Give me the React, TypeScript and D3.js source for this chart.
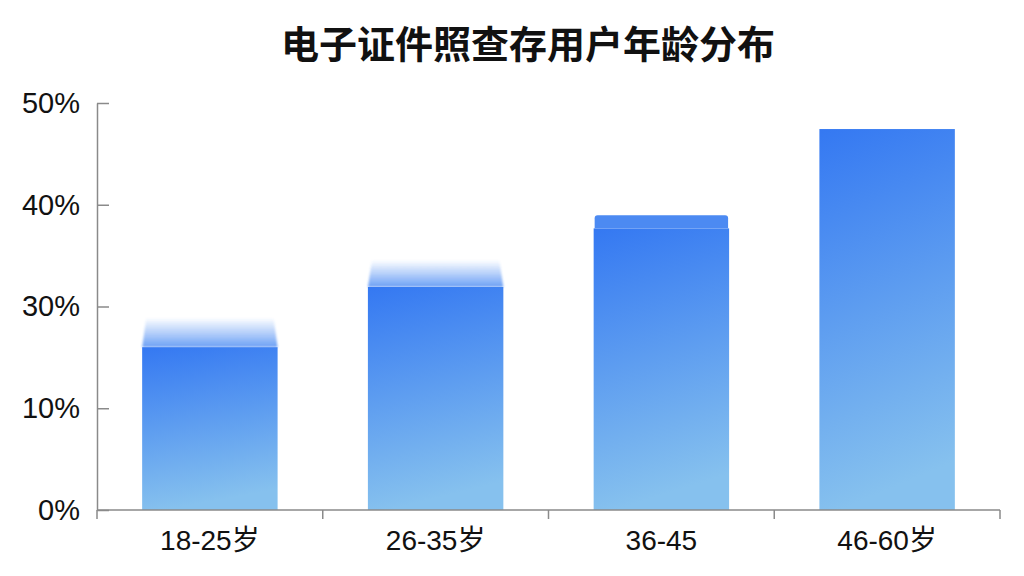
import { useEffect, useRef } from "react";
import * as d3 from "d3";

const title = "电子证件照查存用户年龄分布";
const categories = ["18-25岁", "26-35岁", "36-45", "46-60岁"];
// bar heights in axis units (axis runs 0..50 with evenly spaced labels)
const values = [20.0, 27.4, 34.6, 46.8];
// faded "ghost" top above bars (null = none)
const ghostTops = [23.6, 30.7, null, null];
// lighter cap drawn on top of a bar (null = none)
const capTops = [null, null, 36.2, null];
const tickValues = [0, 12.5, 25, 37.5, 50];
const tickLabels = ["0%", "10%", "30%", "40%", "50%"];

const W = 1024;
const H = 576;
const margin = { top: 103, right: 24, bottom: 66, left: 97 };

export default function App() {
  const svgRef = useRef<SVGSVGElement>(null);

  useEffect(() => {
    if (!svgRef.current) return;
    const svg = d3.select(svgRef.current);
    svg.selectAll("*").remove();

    const x = d3.scaleBand<string>()
      .domain(categories)
      .range([margin.left, W - margin.right])
      .paddingInner(0.4)
      .paddingOuter(0.2);

    const y = d3.scaleLinear()
      .domain([0, 50])
      .range([H - margin.bottom, margin.top]);

    const defs = svg.append("defs");
    const grad = defs.append("linearGradient")
      .attr("id", "barGrad")
      .attr("x1", 0).attr("y1", 0).attr("x2", 0.15).attr("y2", 1);
    grad.append("stop").attr("offset", "0%").attr("stop-color", "#3478f2");
    grad.append("stop").attr("offset", "100%").attr("stop-color", "#86c1ee");

    const ghost = defs.append("linearGradient")
      .attr("id", "ghostGrad")
      .attr("x1", 0).attr("y1", 1).attr("x2", 0).attr("y2", 0);
    ghost.append("stop").attr("offset", "0%").attr("stop-color", "#3d82f2").attr("stop-opacity", 0.75);
    ghost.append("stop").attr("offset", "100%").attr("stop-color", "#3d82f2").attr("stop-opacity", 0);

    defs.append("filter").attr("id", "soft")
      .append("feGaussianBlur").attr("stdDeviation", 0.8);

    // title
    svg.append("text")
      .attr("x", 528)
      .attr("y", 58)
      .attr("text-anchor", "middle")
      .attr("font-family", "'Noto Sans CJK SC', sans-serif")
      .attr("font-weight", 700)
      .attr("font-size", 38)
      .attr("fill", "#111")
      .text(title);

    // ghost tops
    categories.forEach((c, i) => {
      const g = ghostTops[i];
      if (g == null) return;
      const x0 = x(c)!;
      const bw = x.bandwidth();
      const yb = y(values[i]);
      const yt = y(g);
      svg.append("path")
        .attr("d", `M${x0},${yb} L${x0 + 4},${yt} L${x0 + bw - 4},${yt} L${x0 + bw},${yb} Z`)
        .attr("fill", "url(#ghostGrad)")
        .attr("filter", "url(#soft)");
    });

    // bars
    svg.selectAll("rect.bar")
      .data(values)
      .join("rect")
      .attr("class", "bar")
      .attr("x", (_, i) => x(categories[i])!)
      .attr("y", d => y(d))
      .attr("width", x.bandwidth())
      .attr("height", d => y(0) - y(d))
      .attr("fill", "url(#barGrad)");

    // caps
    categories.forEach((c, i) => {
      const cap = capTops[i];
      if (cap == null) return;
      const x0 = x(c)!;
      const bw = x.bandwidth();
      const yb = y(values[i]);
      const yt = y(cap);
      const r = 3;
      svg.append("path")
        .attr("d", `M${x0 + 1},${yb} L${x0 + 1},${yt + r} Q${x0 + 1},${yt} ${x0 + 1 + r},${yt} L${x0 + bw - 1 - r},${yt} Q${x0 + bw - 1},${yt} ${x0 + bw - 1},${yt + r} L${x0 + bw - 1},${yb} Z`)
        .attr("fill", "#4c8af2");
    });

    // y axis
    const yAxis = svg.append("g")
      .attr("transform", `translate(${margin.left},0)`)
      .call(
        d3.axisLeft(y)
          .tickValues(tickValues)
          .tickFormat((_, i) => tickLabels[i])
          .tickSizeInner(-12)
          .tickSizeOuter(0)
          .tickPadding(17)
      );
    yAxis.select(".domain").attr("stroke", "#8a8a8a").attr("stroke-width", 1.5);
    yAxis.selectAll(".tick line").attr("stroke", "#8a8a8a").attr("stroke-width", 1.5);
    yAxis.selectAll(".tick text")
      .attr("font-family", "'Liberation Sans', 'Noto Sans CJK SC', sans-serif")
      .attr("font-size", 29)
      .attr("fill", "#111");

    // x axis: baseline with ticks on band boundaries
    const xg = svg.append("g");
    const y0 = y(0);
    xg.append("line")
      .attr("x1", margin.left).attr("x2", W - margin.right)
      .attr("y1", y0).attr("y2", y0)
      .attr("stroke", "#8a8a8a").attr("stroke-width", 1.5);
    const step = x.step();
    const bounds = categories.map(c => x(c)! - step * 0.2).concat([W - margin.right]);
    xg.selectAll("line.tk")
      .data(bounds)
      .join("line")
      .attr("class", "tk")
      .attr("x1", d => d).attr("x2", d => d)
      .attr("y1", y0).attr("y2", y0 + 9)
      .attr("stroke", "#8a8a8a").attr("stroke-width", 1.5);
    xg.selectAll("text")
      .data(categories)
      .join("text")
      .attr("x", d => x(d)! + x.bandwidth() / 2)
      .attr("y", y0 + 40)
      .attr("text-anchor", "middle")
      .attr("font-family", "'Liberation Sans', 'Noto Sans CJK SC', sans-serif")
      .attr("font-size", 28)
      .attr("textLength", null)
      .attr("fill", "#111")
      .text(d => d);
  }, []);

  return (
    <svg
      ref={svgRef}
      width={W}
      height={H}
      viewBox={`0 0 ${W} ${H}`}
      style={{ position: "absolute", left: 0, top: 0, background: "#fff" }}
    />
  );
}
